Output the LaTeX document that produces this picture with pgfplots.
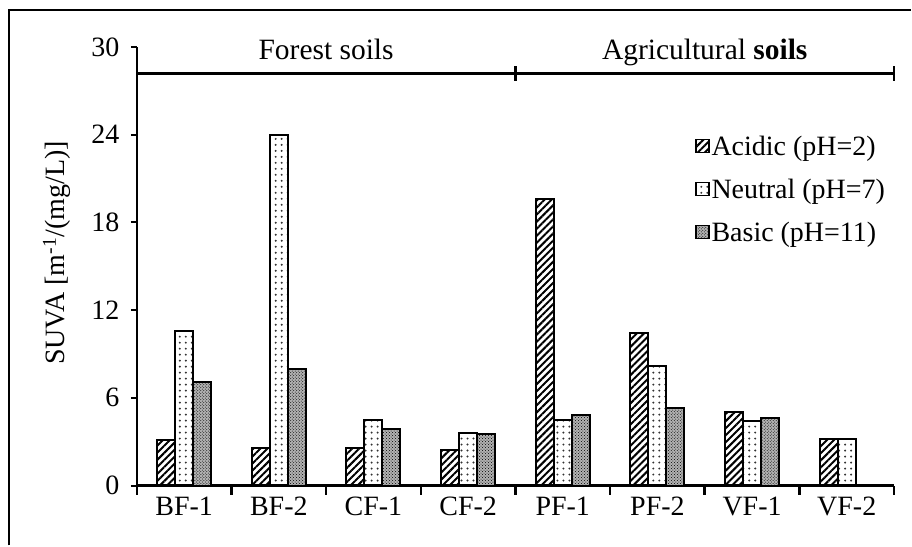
\documentclass[border=0pt]{standalone}
\usepackage{fontspec}
\setmainfont{Liberation Serif}
\usepackage{pgfplots}
\pgfplotsset{compat=1.18}
\usetikzlibrary{patterns,patterns.meta}
\newcommand{\bigf}{\fontsize{28}{32}\selectfont}
\newcommand{\largef}{\fontsize{29.5}{34}\selectfont}
\newcommand{\labf}{\fontsize{28}{32}\selectfont}
\begin{document}
\begin{tikzpicture}
\begin{axis}[
  width=758pt, height=439pt, scale only axis,
  clip=false,
  xmin=-0.5, xmax=7.5, ymin=0, ymax=30,
  ybar=0pt, bar width=18pt,
  axis lines*=left,
  x axis line style={line width=3pt},
  y axis line style={line width=2.5pt},
  xtick={0,...,7},
  xticklabels={BF-1,BF-2,CF-1,CF-2,PF-1,PF-2,VF-1,VF-2},
  major x tick style={draw=none},
  minor xtick={-0.5,0.5,...,7.5},
  minor x tick style={line width=2.5pt,black},
  minor tick length=9pt,
  ytick={0,6,...,30},
  major y tick style={line width=2pt,black},
  major tick length=6pt,
  tick align=outside,
  /pgf/number format/assume math mode=true,
  tick label style={font=\bigf},
  yticklabel style={xshift=-8pt},
  xticklabel style={yshift=-2pt},
  label style={font=\labf},
  ylabel={SUVA [m\textsuperscript{-1}/(mg/L)]},
  ylabel style={at={(axis description cs:-0.1055,0.53)}, anchor=center},
  legend style={at={(axis description cs:0.733,0.806)}, anchor=north west,
    draw=none, fill=none, font=\bigf, row sep=18pt,
    /tikz/every even column/.append style={column sep=0pt},
    nodes={inner xsep=2pt}},
  legend cell align=left,
  legend image code/.code={\draw[#1,line width=1.5pt] (0pt,-6pt) rectangle (13pt,7pt);},
]
\addplot[draw=black, line width=2pt, pattern={Lines[angle=45,distance=5pt,line width=2pt]}]
  coordinates {(0,3.1) (1,2.6) (2,2.6) (3,2.4) (4,19.6) (5,10.4) (6,5.0) (7,3.15)};
\addplot[draw=black, line width=2pt, pattern={Dots[distance=6pt,radius=1.1pt]}, pattern color=black!80]
  coordinates {(0,10.6) (1,24.0) (2,4.5) (3,3.6) (4,4.45) (5,8.2) (6,4.4) (7,3.15)};
\addplot[draw=black, line width=2pt, fill=black!30, postaction={pattern=crosshatch dots, pattern color=black}]
  coordinates {(0,7.1) (1,8.0) (2,3.9) (3,3.5) (4,4.85) (5,5.3) (6,4.6)};
\legend{Acidic (pH=2), Neutral (pH=7), Basic (pH=11)}
\draw[line width=3pt] (axis cs:-0.5,28.2) -- (axis cs:7.5,28.2);
\draw[line width=2.5pt] (axis cs:3.5,27.7) -- (axis cs:3.5,28.7);
\draw[line width=2.5pt] (axis cs:7.5,27.7) -- (axis cs:7.5,28.7);
\node[anchor=base, font=\largef, inner sep=0pt] at (axis cs:1.5,29.15) {Forest soils};
\node[anchor=base, font=\largef, inner sep=0pt] at (axis cs:5.5,29.15) {Agricultural \textbf{soils}};
\draw[line width=2pt] (rel axis cs:-0.1689,-0.1367) -- (rel axis cs:-0.1689,1.0843) -- (rel axis cs:1.0224,1.0843);
\path (rel axis cs:-0.1807,-0.1367) rectangle (rel axis cs:1.0224,1.1071);
\end{axis}
\end{tikzpicture}
\end{document}
